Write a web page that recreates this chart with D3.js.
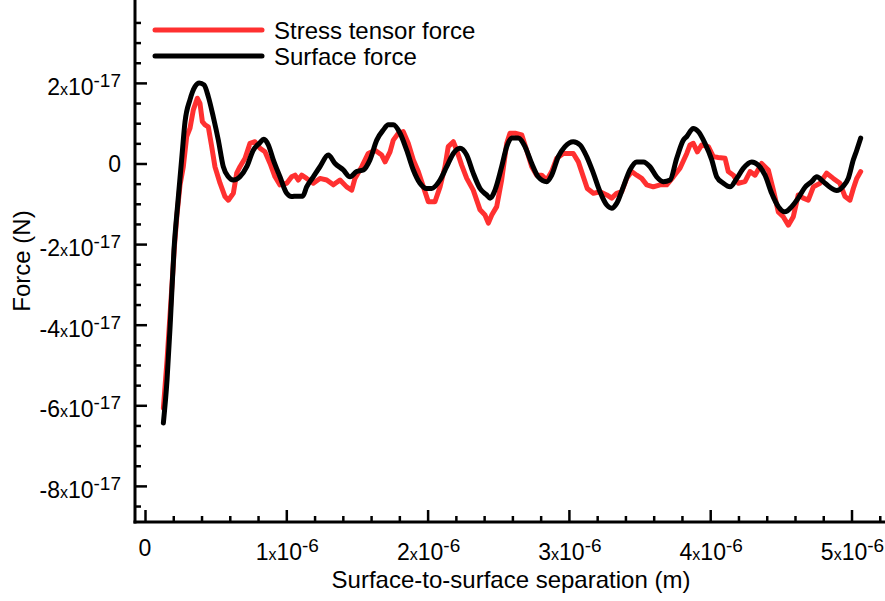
<!DOCTYPE html>
<html>
<head>
<meta charset="utf-8">
<script src="https://cdn.jsdelivr.net/npm/d3@7"></script>
<style>
  html, body { margin: 0; padding: 0; background: #fff; }
  svg { display: block; font-family: "Liberation Sans", Arial, Helvetica, sans-serif; }
</style>
</head>
<body>
<svg id="chart" width="885" height="601"></svg>
<script>
// Separation in units of 1e-6 m, force in units of 1e-17 N
const surfaceX = [0.130,0.156,0.180,0.205,0.234,0.262,0.283,0.318,0.354,0.384,0.418,0.448,0.483,0.519,0.554,0.590,0.625,0.672,0.720,0.766,0.809,0.842,0.873,0.908,0.955,1.003,1.038,1.074,1.116,1.144,1.191,1.238,1.297,1.345,1.403,1.451,1.498,1.545,1.592,1.640,1.686,1.722,1.757,1.805,1.852,1.899,1.946,1.994,2.029,2.088,2.135,2.182,2.229,2.277,2.323,2.371,2.418,2.442,2.477,2.524,2.560,2.595,2.642,2.689,2.737,2.783,2.843,2.878,2.925,2.972,3.031,3.079,3.126,3.173,3.220,3.268,3.303,3.338,3.385,3.432,3.480,3.527,3.574,3.621,3.668,3.716,3.763,3.810,3.834,3.880,3.916,3.963,4.011,4.046,4.093,4.140,4.188,4.234,4.294,4.340,4.388,4.435,4.482,4.529,4.577,4.623,4.671,4.718,4.754,4.800,4.848,4.895,4.942,4.977,5.013,5.037,5.065];
const surfaceY = [-6.44,-5.37,-3.88,-2.15,-0.91,0.21,1.03,1.58,1.91,2.00,1.95,1.66,1.16,0.58,-0.08,-0.33,-0.41,-0.33,-0.08,0.33,0.50,0.60,0.46,0.09,-0.33,-0.74,-0.82,-0.81,-0.81,-0.58,-0.33,-0.08,0.21,0.00,-0.16,-0.33,-0.20,-0.16,0.09,0.58,0.83,0.96,0.96,0.75,0.33,-0.16,-0.49,-0.62,-0.62,-0.41,-0.08,0.25,0.38,0.21,-0.24,-0.62,-0.78,-0.86,-0.66,-0.08,0.42,0.63,0.63,0.42,0.00,-0.33,-0.45,-0.29,0.17,0.42,0.54,0.46,0.17,-0.24,-0.70,-1.03,-1.11,-0.99,-0.58,-0.16,0.04,0.04,-0.08,-0.33,-0.45,-0.41,0.13,0.58,0.67,0.87,0.79,0.50,0.09,-0.33,-0.49,-0.58,-0.37,-0.12,0.04,-0.04,-0.29,-0.74,-1.07,-1.20,-1.07,-0.86,-0.59,-0.45,-0.33,-0.45,-0.59,-0.67,-0.56,-0.37,0.09,0.33,0.63];

const stressX = [0.130,0.156,0.184,0.209,0.226,0.248,0.271,0.295,0.318,0.342,0.370,0.389,0.406,0.425,0.448,0.472,0.495,0.531,0.566,0.590,0.625,0.649,0.672,0.708,0.743,0.778,0.814,0.849,0.885,0.920,0.955,1.003,1.038,1.062,1.085,1.109,1.144,1.191,1.238,1.286,1.333,1.380,1.427,1.463,1.486,1.534,1.580,1.628,1.675,1.699,1.734,1.757,1.793,1.828,1.863,1.899,1.934,1.970,2.005,2.052,2.088,2.123,2.146,2.182,2.206,2.241,2.277,2.323,2.371,2.406,2.430,2.454,2.489,2.524,2.560,2.583,2.619,2.666,2.701,2.737,2.772,2.807,2.843,2.878,2.914,2.960,2.996,3.031,3.067,3.102,3.130,3.173,3.220,3.268,3.303,3.338,3.374,3.409,3.444,3.480,3.515,3.551,3.597,3.645,3.692,3.739,3.786,3.834,3.857,3.880,3.909,3.940,3.987,4.022,4.057,4.105,4.128,4.164,4.199,4.246,4.282,4.317,4.364,4.411,4.447,4.482,4.517,4.553,4.588,4.623,4.659,4.694,4.730,4.777,4.824,4.871,4.918,4.954,4.989,5.013,5.037,5.065];
const stressY = [-6.07,-4.88,-3.39,-2.02,-1.28,-0.53,-0.08,0.67,0.87,1.33,1.62,1.49,1.04,0.96,0.91,0.42,-0.08,-0.49,-0.82,-0.91,-0.74,-0.24,-0.08,0.13,0.50,0.54,0.38,0.29,0.00,-0.33,-0.53,-0.49,-0.33,-0.29,-0.41,-0.29,-0.37,-0.49,-0.37,-0.41,-0.53,-0.41,-0.58,-0.66,-0.37,-0.08,0.25,0.33,0.21,0.04,0.29,0.58,0.75,0.79,0.50,0.09,-0.20,-0.58,-0.95,-0.95,-0.58,-0.08,0.42,0.54,0.33,-0.04,-0.37,-0.66,-1.15,-1.28,-1.48,-1.28,-1.07,-0.41,0.50,0.75,0.75,0.71,0.33,-0.08,-0.29,-0.29,-0.41,-0.20,0.13,0.25,0.25,0.25,0.04,-0.33,-0.62,-0.74,-0.70,-0.78,-0.86,-0.74,-0.70,-0.37,-0.20,-0.29,-0.37,-0.53,-0.58,-0.53,-0.53,-0.33,-0.12,0.25,0.46,0.50,0.29,0.46,0.42,0.17,0.15,0.13,-0.20,-0.29,-0.49,-0.45,-0.20,-0.29,0.00,-0.16,-0.66,-1.20,-1.32,-1.53,-1.32,-0.78,-0.86,-0.91,-0.58,-0.49,-0.24,-0.37,-0.49,-0.82,-0.91,-0.62,-0.37,-0.20];

const xMajorTicks = [0, 1, 2, 3, 4, 5];
const xTickLabels = ["0", "1", "2", "3", "4", "5"];
const xTickExponent = "-6";
const yMajorTicks = [-8, -6, -4, -2, 0, 2];
const yTickLabels = ["-8", "-6", "-4", "-2", "0", "2"];
const yTickExponent = "-17";
const seriesNames = ["Stress tensor force", "Surface force"];
const seriesColors = ["#ff3030", "#000000"];

const left = 135, bottom = 522;
const x = d3.scaleLinear().domain([-0.0708, 5.237]).range([left, 885]);
const y = d3.scaleLinear().domain([-8.896, 4.057]).range([bottom, 0]);

const svg = d3.select("#chart");

const stressData = stressX.map((v, i) => [v, stressY[i]]);
const surfaceData = surfaceX.map((v, i) => [v, surfaceY[i]]);

const lineLin = d3.line().x(d => x(d[0])).y(d => y(d[1])).curve(d3.curveLinear);
const lineSmooth = d3.line().x(d => x(d[0])).y(d => y(d[1])).curve(d3.curveMonotoneX);

svg.append("path").datum(stressData).attr("d", lineLin)
  .attr("fill", "none").attr("stroke", seriesColors[0]).attr("stroke-width", 5)
  .attr("stroke-linejoin", "round").attr("stroke-linecap", "round");
svg.append("path").datum(surfaceData).attr("d", lineSmooth)
  .attr("fill", "none").attr("stroke", seriesColors[1]).attr("stroke-width", 5)
  .attr("stroke-linejoin", "round").attr("stroke-linecap", "round");

// axes with inward ticks
const xMinor = d3.range(1, 27).map(i => i * 0.2).filter(v => Math.abs(v - Math.round(v)) > 1e-6);
const yMinor = d3.range(-17, 8).map(i => i * 0.5).filter(v => Math.abs(v - Math.round(v)) > 1e-6 || Math.round(v) % 2 !== 0);

const xAxisMajor = d3.axisTop(x).tickValues(xMajorTicks).tickSize(12).tickFormat("");
const xAxisMinor = d3.axisTop(x).tickValues(xMinor).tickSize(6).tickFormat("");
const yAxisMajor = d3.axisRight(y).tickValues(yMajorTicks).tickSize(12).tickFormat("");
const yAxisMinor = d3.axisRight(y).tickValues(yMinor).tickSize(6).tickFormat("");

function styleAxis(g) {
  g.select(".domain").remove();
  g.selectAll(".tick line").attr("stroke", "#000").attr("stroke-width", 2.5);
}
svg.append("g").attr("transform", `translate(0,${bottom})`).call(xAxisMajor).call(styleAxis);
svg.append("g").attr("transform", `translate(0,${bottom})`).call(xAxisMinor).call(styleAxis);
svg.append("g").attr("transform", `translate(${left},0)`).call(yAxisMajor).call(styleAxis);
svg.append("g").attr("transform", `translate(${left},0)`).call(yAxisMinor).call(styleAxis);

svg.append("line").attr("x1", left).attr("x2", left).attr("y1", 0).attr("y2", bottom + 1.5)
  .attr("stroke", "#000").attr("stroke-width", 3);
svg.append("line").attr("x1", left - 1.5).attr("x2", 885).attr("y1", bottom).attr("y2", bottom)
  .attr("stroke", "#000").attr("stroke-width", 3);

// tick labels
function expLabel(sel, base, exp) {
  if (base === "0") { sel.text("0"); return; }
  sel.append("tspan").text(base);
  sel.append("tspan").attr("font-size", 16).text("x");
  sel.append("tspan").text("10");
  sel.append("tspan").attr("font-size", 19).attr("dy", -8).text(exp);
}
xMajorTicks.forEach((v, i) => {
  const t = svg.append("text").attr("x", x(v) + (xTickLabels[i] === "0" ? 0 : 1)).attr("y", xTickLabels[i] === "0" ? 556 : 560)
    .attr("text-anchor", "middle").attr("font-size", 23).attr("fill", "#000");
  expLabel(t, xTickLabels[i], xTickExponent);
});
yMajorTicks.forEach((v, i) => {
  const t = svg.append("text").attr("x", 121).attr("y", y(v) + (yTickLabels[i] === "0" ? 9 : 12))
    .attr("text-anchor", "end").attr("font-size", 23).attr("fill", "#000");
  expLabel(t, yTickLabels[i], yTickExponent);
});

// axis titles
svg.append("text").attr("x", 511).attr("y", 588).attr("text-anchor", "middle")
  .attr("font-size", 24).text("Surface-to-surface separation (m)");
svg.append("text").attr("transform", "translate(30,261) rotate(-90)").attr("text-anchor", "middle")
  .attr("font-size", 24).text("Force (N)");

// legend
const legend = svg.append("g");
seriesNames.forEach((name, i) => {
  const ly = 30 + i * 26;
  legend.append("line").attr("x1", 155).attr("x2", 262).attr("y1", ly).attr("y2", ly)
    .attr("stroke", seriesColors[i]).attr("stroke-width", 5).attr("stroke-linecap", "round");
  legend.append("text").attr("x", 274).attr("y", ly + 9).attr("font-size", 24).text(name);
});
</script>
</body>
</html>
